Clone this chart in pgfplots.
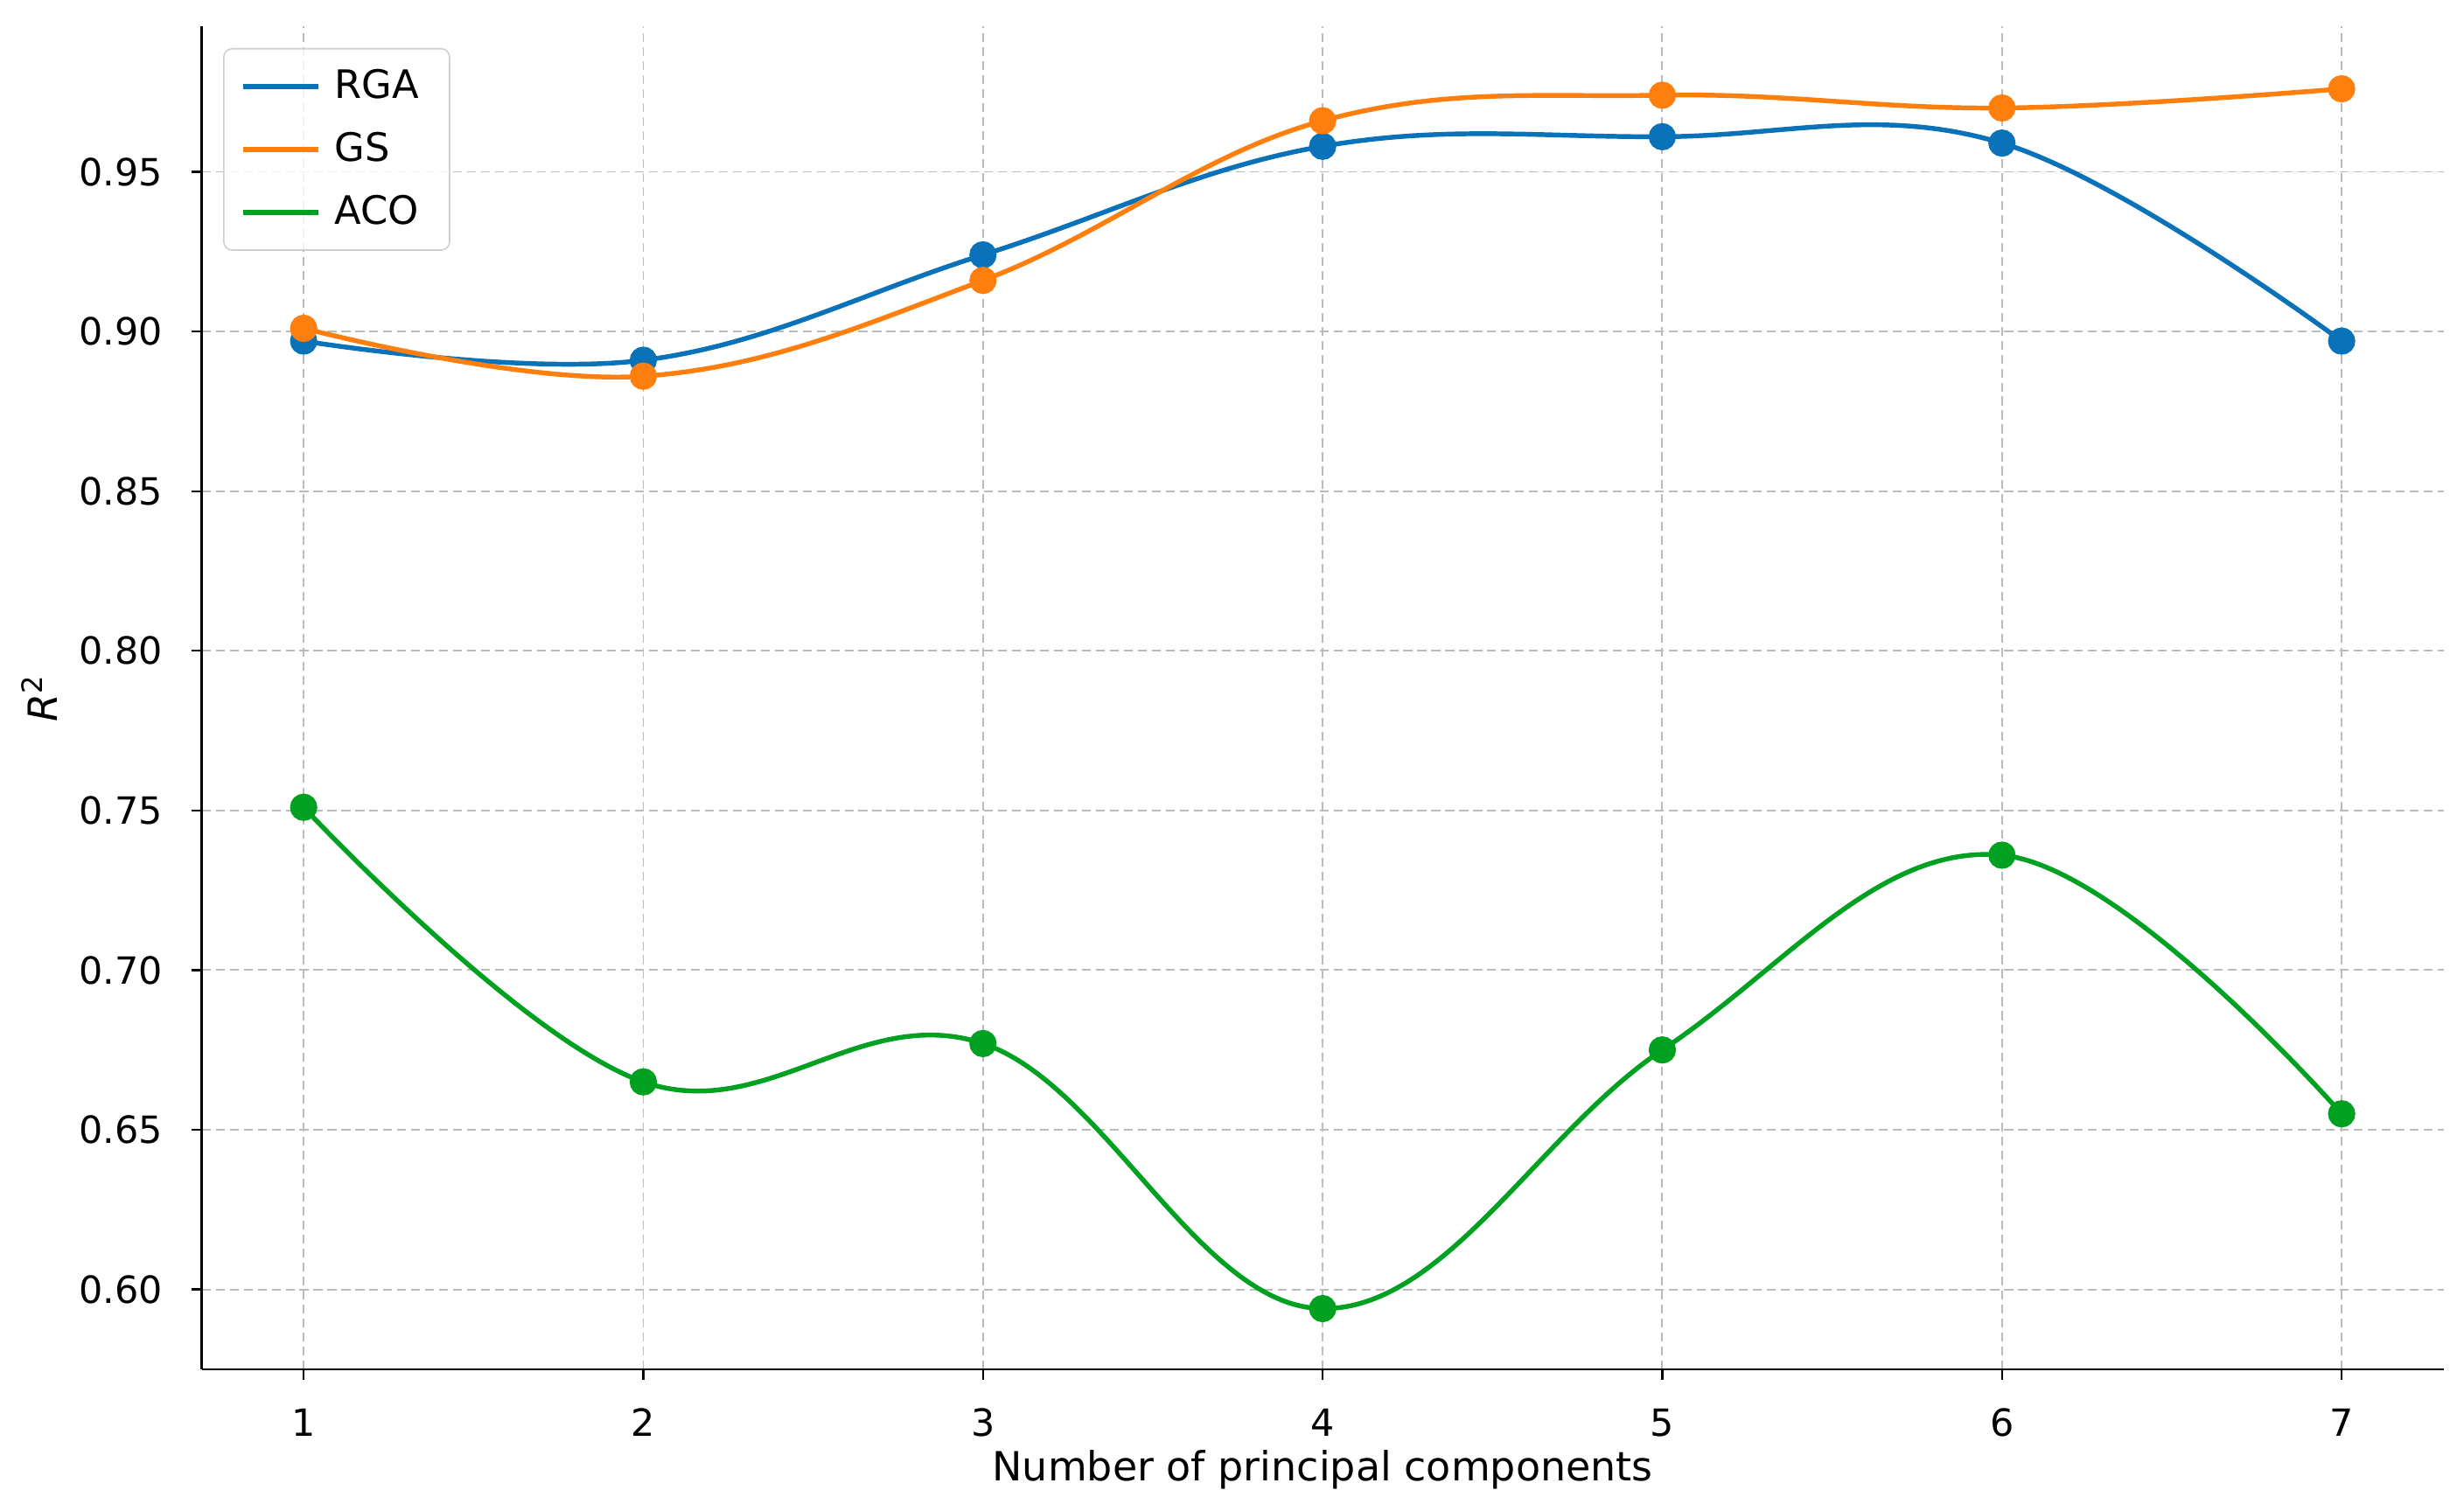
\documentclass[border=0pt]{standalone}
\usepackage{fontspec}
\setmainfont{DejaVu Sans}
\usepackage{pgfplots}
\pgfplotsset{compat=1.18}

\definecolor{cRGA}{HTML}{0A72B8}
\definecolor{cGS}{HTML}{FF7F0E}
\definecolor{cACO}{HTML}{00A020}
\definecolor{gridc}{HTML}{BBBBBB}

\begin{document}
\begin{tikzpicture}
\begin{axis}[
    name=ax,
    scale only axis,
    width=657.8pt, height=394.1pt,
    xmin=0.7, xmax=7.3,
    ymin=0.575, ymax=0.9955,
    xtick={1,2,3,4,5,6,7},
    ytick={0.60,0.65,0.70,0.75,0.80,0.85,0.90,0.95},
    /pgf/number format/assume math mode=true,
    yticklabel style={/pgf/number format/fixed, /pgf/number format/fixed zerofill,
        /pgf/number format/precision=2, xshift=-5pt},
    xticklabel style={yshift=-5pt},
    tick label style={font=\fontsize{11}{13}\selectfont},
    label style={font=\fontsize{11.8}{14}\selectfont},
    axis x line*=bottom, axis y line*=left,
    axis line style={line width=0.6pt, -},
    tick align=outside,
    major tick length=3pt,
    tick style={line width=0.6pt, black},
    grid=major,
    grid style={gridc, line width=0.5pt, dash pattern=on 2.6pt off 1.5pt},
    xlabel={Number of principal components},
    ylabel={\textit{R}\textsuperscript{2}},
    xlabel style={at={(axis description cs:0.5,-0.0751)}, anchor=center},
    ylabel style={at={(axis description cs:-0.0724,0.5)}, anchor=center},
    legend style={at={(axis description cs:0.0095,0.984)}, anchor=north west,
        draw=gridc!70, rounded corners=2.5pt, fill=white, fill opacity=0.8,
        text opacity=1, font=\fontsize{11.5}{13}\selectfont,
        row sep=4.5pt, inner xsep=5pt, inner ysep=4pt,
        nodes={inner xsep=4pt}},
    legend cell align=left,
    legend image code/.code={\draw[#1, line width=1.5pt] (0pt,0pt) -- (22pt,0pt);},
]
\addplot[cRGA, line width=1.4pt, smooth, tension=0.65, mark=*, mark size=3.3pt,
    mark options={fill=cRGA, draw=cRGA}] coordinates {
    (1,0.897) (2,0.891) (3,0.924) (4,0.958) (5,0.961) (6,0.959) (7,0.897)
};
\addlegendentry{RGA}
\addplot[cGS, line width=1.4pt, smooth, tension=0.65, mark=*, mark size=3.3pt,
    mark options={fill=cGS, draw=cGS}] coordinates {
    (1,0.901) (2,0.886) (3,0.916) (4,0.966) (5,0.974) (6,0.970) (7,0.976)
};
\addlegendentry{GS}
\addplot[cACO, line width=1.4pt, smooth, tension=0.65, mark=*, mark size=3.3pt,
    mark options={fill=cACO, draw=cACO}] coordinates {
    (1,0.751) (2,0.665) (3,0.677) (4,0.594) (5,0.675) (6,0.736) (7,0.655)
};
\addlegendentry{ACO}
\end{axis}
\path (ax.south west) ++(-59.2pt,-41.6pt) rectangle ++(723pt,443.5pt);
\end{tikzpicture}
\end{document}
